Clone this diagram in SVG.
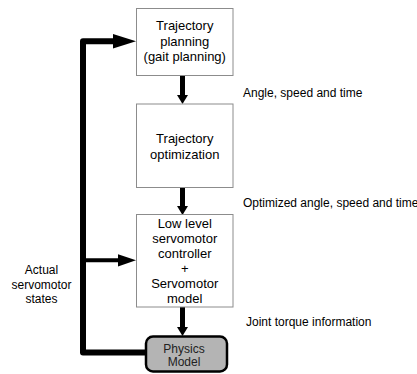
<svg xmlns="http://www.w3.org/2000/svg" width="417" height="374" viewBox="0 0 417 374">
<style>
.box{fill:#fff;stroke:#8c8c8c;stroke-width:1}
.t{font-family:"Liberation Sans",Arial,sans-serif;font-size:13px;fill:#000;text-anchor:middle}
.l{font-family:"Liberation Sans",Arial,sans-serif;font-size:12px;fill:#000}
.lc{font-family:"Liberation Sans",Arial,sans-serif;font-size:12px;fill:#000;text-anchor:middle}
.pt{font-family:"Liberation Sans",Arial,sans-serif;font-size:12px;fill:#222;text-anchor:middle}
.sh{stroke:#000;fill:none}
</style>
<rect width="417" height="374" fill="#fff"/>
<g id="connectors">
  <line class="sh" x1="182.5" y1="75.5" x2="182.5" y2="96" stroke-width="5"/>
  <polygon points="177,95 188,95 182.5,104"/>
  <line class="sh" x1="182.5" y1="187.5" x2="182.5" y2="207" stroke-width="5"/>
  <polygon points="177,206 188,206 182.5,215"/>
  <line class="sh" x1="182.5" y1="307" x2="182.5" y2="328" stroke-width="5"/>
  <polygon points="177,327 188,327 182.5,336"/>
  <path class="sh" d="M146,352.5 H83 V41.3 H114" stroke-width="6" stroke-linejoin="round"/>
  <polygon points="113,34 136,41.3 113,48.6"/>
  <line class="sh" x1="83" y1="260.3" x2="119" y2="260.3" stroke-width="4"/>
  <polygon points="118,254.3 136,260.3 118,266.5"/>
</g>
<g id="traj-planning">
  <rect class="box" x="136.5" y="8.5" width="96.5" height="67"/>
  <text class="t" x="184.75" y="30">Trajectory</text>
  <text class="t" x="184.75" y="45.5">planning</text>
  <text class="t" x="184.75" y="61">(gait planning)</text>
</g>
<g id="traj-opt">
  <rect class="box" x="136.5" y="104" width="96.5" height="83.5"/>
  <text class="t" x="184.75" y="143">Trajectory</text>
  <text class="t" x="184.75" y="158.5">optimization</text>
</g>
<g id="controller">
  <rect class="box" x="136.5" y="214.5" width="96.5" height="92.5"/>
  <text class="t" x="184.75" y="228">Low level</text>
  <text class="t" x="184.75" y="243">servomotor</text>
  <text class="t" x="184.75" y="258">controller</text>
  <text class="t" x="184.75" y="273">+</text>
  <text class="t" x="184.75" y="288">Servomotor</text>
  <text class="t" x="184.75" y="303">model</text>
</g>
<g id="physics">
  <rect x="146" y="336.5" width="81" height="35" rx="7" ry="7" fill="#b4b4b4" stroke="#000" stroke-width="2.5"/>
  <text class="pt" x="184" y="353">Physics</text>
  <text class="pt" x="184" y="366">Model</text>
</g>
<g id="labels">
  <text class="l" x="243" y="97">Angle, speed and time</text>
  <text class="l" x="243" y="207">Optimized angle, speed and time</text>
  <text class="l" x="246" y="326">Joint torque information</text>
  <text class="lc" x="41.5" y="274">Actual</text>
  <text class="lc" x="41.5" y="288.5">servomotor</text>
  <text class="lc" x="41.5" y="303">states</text>
</g>
</svg>
